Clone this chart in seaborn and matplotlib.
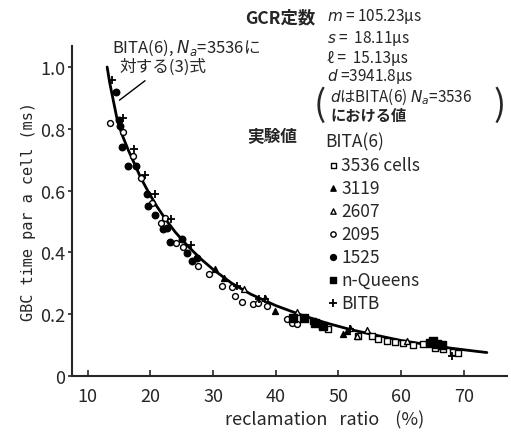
import matplotlib
matplotlib.use("Agg")
import matplotlib.pyplot as plt
import seaborn as sns
import pandas as pd
import numpy as np

sns.set_style("ticks")
plt.rcParams['font.family'] = ['Noto Sans CJK JP', 'DejaVu Sans']
plt.rcParams['mathtext.fontset'] = 'dejavusans'

# curve of equation (3) for BITA(6), Na=3536
curve_x = [13.1, 13.5, 14.0, 14.7, 15.5, 16.5, 17.5, 18.5, 19.7, 21.0, 22.5, 24.0, 26.0,
           28.0, 30.0, 33.0, 36.0, 40.0, 44.0, 48.0, 52.0, 56.0, 60.0, 64.0, 68.0, 72.0, 73.7]
curve_y = [1.00, 0.95, 0.90, 0.83, 0.78, 0.73, 0.685, 0.64, 0.595, 0.55, 0.505, 0.465, 0.42,
           0.38, 0.345, 0.30, 0.265, 0.228, 0.198, 0.172, 0.15, 0.132, 0.115, 0.102, 0.09, 0.08, 0.076]

# measured values
sq_open_x = [46.0, 47.4, 48.3, 53.2, 55.3, 56.3, 57.8, 59.1, 60.3, 61.9, 63.5, 65.4, 66.7, 68.3, 69.1]
sq_open_y = [0.179, 0.161, 0.153, 0.13, 0.13, 0.12, 0.114, 0.11, 0.107, 0.10, 0.104, 0.091, 0.088, 0.078, 0.075]

tri_fill_x = [30.3, 31.7, 39.9, 50.8, 51.4]
tri_fill_y = [0.345, 0.317, 0.212, 0.137, 0.145]

tri_open_x = [35.0, 38.3, 43.4, 51.9, 53.0, 54.6, 61.0]
tri_open_y = [0.28, 0.254, 0.207, 0.156, 0.13, 0.15, 0.114]

circ_open_x = [13.6, 15.7, 17.3, 18.5, 20.3, 21.7, 22.3, 24.1, 25.2, 27.6, 29.3, 31.5, 33.1,
               33.5, 34.6, 36.4, 37.2, 38.6, 41.8, 42.6, 43.4]
circ_open_y = [0.82, 0.79, 0.713, 0.64, 0.56, 0.495, 0.51, 0.432, 0.416, 0.355, 0.329, 0.29, 0.287,
               0.26, 0.24, 0.232, 0.236, 0.228, 0.184, 0.173, 0.169]

circ_fill_x = [14.5, 15.0, 15.2, 15.5, 16.5, 17.7, 19.5, 19.7, 20.8, 22.0, 22.6, 23.2, 25.0,
               25.8, 26.7, 27.4]
circ_fill_y = [0.918, 0.83, 0.81, 0.74, 0.68, 0.678, 0.59, 0.55, 0.52, 0.475, 0.48, 0.433, 0.443,
               0.397, 0.372, 0.381]

queens_x = [42.8, 44.5, 46.3, 47.6, 64.6, 65.1, 65.7, 66.5]
queens_y = [0.189, 0.187, 0.173, 0.163, 0.107, 0.114, 0.104, 0.10]

bitb_x = [13.9, 15.7, 17.4, 19.2, 20.8, 23.3, 26.5, 33.9, 37.3, 38.3, 51.9, 68.1]
bitb_y = [0.957, 0.834, 0.736, 0.65, 0.59, 0.507, 0.425, 0.291, 0.25, 0.25, 0.153, 0.065]

fig = plt.figure(figsize=(5.11, 4.35), dpi=100)
ax = fig.add_axes([0.141, 0.1333, 0.851, 0.7587])

sns.lineplot(x=curve_x, y=curve_y, ax=ax, color='black', lw=2.0, sort=False)

series = [
    (sq_open_x, sq_open_y, 's', 'white', '3536 cells', 16),
    (tri_fill_x, tri_fill_y, '^', 'black', '3119', 18),
    (tri_open_x, tri_open_y, '^', 'white', '2607', 18),
    (circ_open_x, circ_open_y, 'o', 'white', '2095', 18),
    (circ_fill_x, circ_fill_y, 'o', 'black', '1525', 22),
    (queens_x, queens_y, 's', 'black', 'n-Queens', 26),
]
for xs, ys, mk, fc, lab, sz in series:
    sns.scatterplot(x=xs, y=ys, ax=ax, marker=mk, s=sz, facecolor=fc,
                    edgecolor='black', linewidth=1.0, label=lab, zorder=3)
sns.scatterplot(x=bitb_x, y=bitb_y, ax=ax, marker='+', s=40, color='black',
                linewidth=1.3, label='BITB', zorder=3)

ax.set_xlim(7.5, 76.9)
ax.set_ylim(0, 1.068)
ax.set_xticks([10, 20, 30, 40, 50, 60, 70])
ax.set_yticks([0, 0.2, 0.4, 0.6, 0.8, 1.0])
ax.set_yticklabels(['0', '0.2', '0.4', '0.6', '0.8', '1.0'])
ax.tick_params(axis='x', direction='in', length=4, width=1.2, labelsize=13, pad=8)
ax.tick_params(axis='y', direction='out', length=3, width=1.2, labelsize=13, pad=2)
sns.despine(ax=ax)
for sp in ['left', 'bottom']:
    ax.spines[sp].set_linewidth(1.5)

ax.set_xlabel('reclamation   ratio    (%)', fontsize=13, labelpad=4, x=0.58)
ax.set_ylabel('GBC time par a cell (ms)', fontsize=11, family='DejaVu Sans Mono', labelpad=3)

leg = ax.legend(loc='upper left', bbox_to_anchor=(0.583, 0.738), frameon=False,
                fontsize=12.5, title='BITA(6)', title_fontsize=12.5, handletextpad=0.1,
                handlelength=0.8, labelspacing=0.29, borderaxespad=0, borderpad=0,
                markerscale=0.9)
leg._legend_box.align = 'left'

# annotations
fig.text(245 / 511, 1 - 18 / 435, 'GCR定数', fontsize=12.5, va='center', weight='bold')
fig.text(327 / 511, 1 - 17 / 435, '$m$ = 105.23μs', fontsize=11, va='center')
fig.text(327 / 511, 1 - 38 / 435, '$s$ =  18.11μs', fontsize=11, va='center')
fig.text(327 / 511, 1 - 58 / 435, 'ℓ =  15.13μs', fontsize=11, va='center', style='italic')
fig.text(327 / 511, 1 - 77 / 435, '$d$ =3941.8μs', fontsize=11, va='center')
fig.text(326 / 511, 1 - 106 / 435, '(', fontsize=26, va='center', ha='right')
fig.text(330 / 511, 1 - 97 / 435, '$d$はBITA(6) $N_a$=3536', fontsize=11, va='center')
fig.text(330 / 511, 1 - 116 / 435, 'における値', fontsize=11, va='center', weight='bold')
fig.text(494 / 511, 1 - 106 / 435, ')', fontsize=26, va='center', ha='left')
fig.text(247 / 511, 1 - 137 / 435, '実験値', fontsize=12, va='center', weight='bold')

fig.text(112 / 511, 1 - 48 / 435, 'BITA(6), $N_a$=3536に', fontsize=12, va='center')
fig.text(120 / 511, 1 - 67 / 435, '対する(3)式', fontsize=12, va='center')
ax.annotate('', xy=(14.7, 0.887), xytext=(19.5, 0.961),
            arrowprops=dict(arrowstyle='-', color='black', lw=1))

fig.savefig('out.png', dpi=100)
